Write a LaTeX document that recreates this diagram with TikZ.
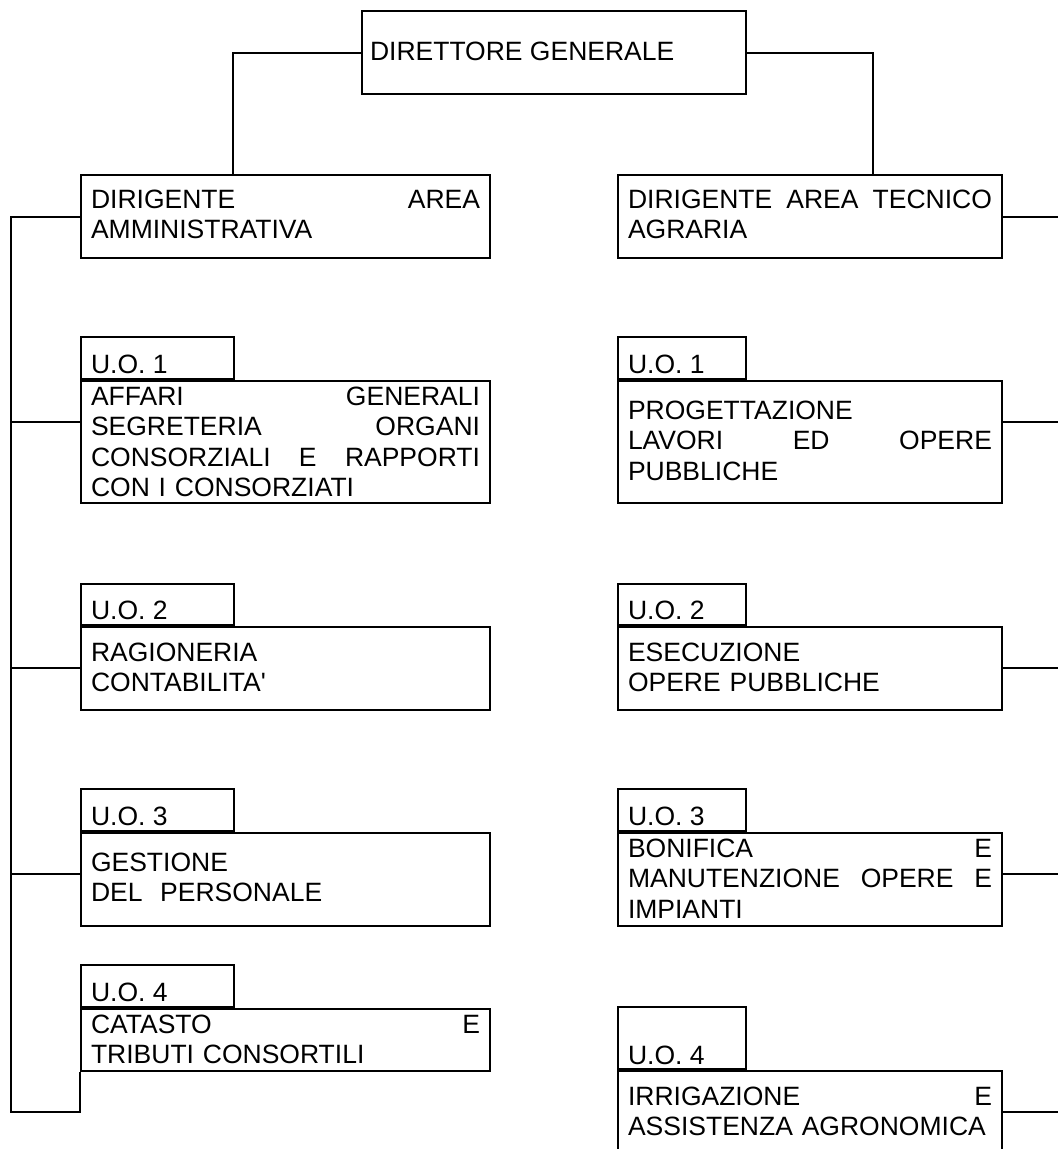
\documentclass[tikz,border=0pt]{standalone}
\usepackage{fontspec}
\setmainfont{Liberation Sans}

\begin{document}
\begin{tikzpicture}[x=1pt,y=-1pt,line width=2pt,
  font=\fontsize{26.5}{30.5}\selectfont,
  unit/.style={draw,inner sep=0pt,anchor=north west},
  uotab/.style={unit,anchor=south west,minimum height=42pt},
  lbl/.style={anchor=base west,inner sep=0pt,align=left},
  lbla/.style={lbl,text width=389pt},
  lblb/.style={lbl,text width=364pt}]
\useasboundingbox (0,0) rectangle (1058,1149);
\clip (0,0) rectangle (1058,1149);
\coordinate (foot) at (11,1112);
\coordinate (edge) at (1058,0);

\node[unit,minimum width=384pt,minimum height=83pt] (dg) at (361,10) {};
\node[lbl] (dgx) at ([shift={(8,50)}]dg.north west) {DIRETTORE GENERALE};

% area amministrativa
\node[unit,minimum width=409pt,minimum height=83pt] (dam) at (80,174) {};
\node[lbla] (damx) at ([shift={(10,34)}]dam.north west) {DIRIGENTE\hfill AREA\\AMMINISTRATIVA};
\node[unit,minimum width=409pt,minimum height=122pt] (am1) at (80,380) {};
\node[uotab,minimum width=153pt] (am1tab) at (am1.north west) {};
\node[lbl] (am1tabx) at ([shift={(10,-7)}]am1tab.south west) {U.O. 1};
\node[lbla] (am1x) at ([shift={(10,25)}]am1.north west) {AFFARI\hfill GENERALI\\SEGRETERIA\hfill ORGANI\\CONSORZIALI\hfill E\hfill RAPPORTI\\CON I CONSORZIATI};
\node[unit,minimum width=409pt,minimum height=82.5pt] (am2) at (80,626) {};
\node[uotab,minimum width=153pt,minimum height=41pt] (am2tab) at (am2.north west) {};
\node[lbl] (am2tabx) at ([shift={(10,-7)}]am2tab.south west) {U.O. 2};
\node[lbla] (am2x) at ([shift={(10,35)}]am2.north west) {RAGIONERIA\\CONTABILITA\textquotesingle};
\node[unit,minimum width=409pt,minimum height=93pt] (am3) at (80,832) {};
\node[uotab,minimum width=153pt] (am3tab) at (am3.north west) {};
\node[lbl] (am3tabx) at ([shift={(10,-7)}]am3tab.south west) {U.O. 3};
\node[lbla] (am3x) at ([shift={(10,39)}]am3.north west) {GESTIONE\\DEL\ \ PERSONALE};
\node[unit,minimum width=409pt,minimum height=62pt] (am4) at (80,1008) {};
\node[uotab,minimum width=153pt] (am4tab) at (am4.north west) {};
\node[lbl] (am4tabx) at ([shift={(10,-7)}]am4tab.south west) {U.O. 4};
\node[lbla] (am4x) at ([shift={(10,25)}]am4.north west) {CATASTO\hfill E\\TRIBUTI CONSORTILI};

% area tecnico agraria
\node[unit,minimum width=384pt,minimum height=83pt] (dta) at (617,174) {};
\node[lblb] (dtax) at ([shift={(10,34)}]dta.north west) {DIRIGENTE\hfill AREA\hfill TECNICO\\AGRARIA};
\node[unit,minimum width=384pt,minimum height=122pt] (ta1) at (617,380) {};
\node[uotab,minimum width=128pt] (ta1tab) at (ta1.north west) {};
\node[lbl] (ta1tabx) at ([shift={(10,-7)}]ta1tab.south west) {U.O. 1};
\node[lblb] (ta1x) at ([shift={(10,39)}]ta1.north west) {PROGETTAZIONE\\LAVORI\hfill ED\hfill OPERE\\PUBBLICHE};
\node[unit,minimum width=384pt,minimum height=82.5pt] (ta2) at (617,626) {};
\node[uotab,minimum width=128pt,minimum height=41pt] (ta2tab) at (ta2.north west) {};
\node[lbl] (ta2tabx) at ([shift={(10,-7)}]ta2tab.south west) {U.O. 2};
\node[lblb] (ta2x) at ([shift={(10,35)}]ta2.north west) {ESECUZIONE\\OPERE PUBBLICHE};
\node[unit,minimum width=384pt,minimum height=93pt] (ta3) at (617,832) {};
\node[uotab,minimum width=128pt] (ta3tab) at (ta3.north west) {};
\node[lbl] (ta3tabx) at ([shift={(10,-7)}]ta3tab.south west) {U.O. 3};
\node[lblb] (ta3x) at ([shift={(10,25)}]ta3.north west) {BONIFICA\hfill E\\MANUTENZIONE\hfill OPERE\hfill E\\IMPIANTI};
\node[unit,minimum width=384pt,minimum height=100pt] (ta4) at (617,1070) {};
\node[uotab,minimum width=128pt,minimum height=62pt] (ta4tab) at (ta4.north west) {};
\node[lbl] (ta4tabx) at ([shift={(10,-6)}]ta4tab.south west) {U.O. 4};
\node[lblb] (ta4x) at ([shift={(10,35)}]ta4.north west) {IRRIGAZIONE\hfill E\\ASSISTENZA AGRONOMICA};

\draw (dg.west) -| ([xshift=153pt]dam.north west);
\draw (dg.east) -| ([xshift=256pt]dta.north west);
\draw (dam.west) -| (foot) -| (am4.south west);
\draw ([yshift=20pt]am1.west) -- ([yshift=20pt]am1.west -| foot);
\draw (am2.west) -- (am2.west -| foot);
\draw ([yshift=5.5pt]am3.west) -- ([yshift=5.5pt]am3.west -| foot);
\draw (dta.east) -- (dta.east -| edge);
\draw ([yshift=20pt]ta1.east) -- ([yshift=20pt]ta1.east -| edge);
\draw (ta2.east) -- (ta2.east -| edge);
\draw ([yshift=5.5pt]ta3.east) -- ([yshift=5.5pt]ta3.east -| edge);
\draw ([yshift=-42pt]ta4.north east) -- ([yshift=-42pt]ta4.north east -| edge);
\end{tikzpicture}
\end{document}
